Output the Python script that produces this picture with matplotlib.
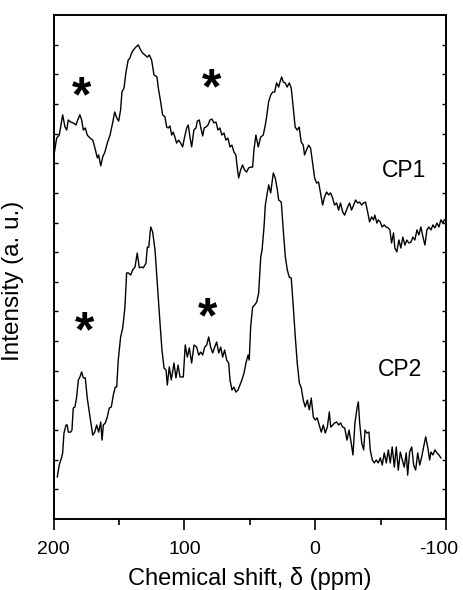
import matplotlib
matplotlib.use("Agg")
import matplotlib.pyplot as plt
from matplotlib.ticker import FixedLocator, NullFormatter
from matplotlib.transforms import ScaledTranslation

plt.rcParams['font.family'] = ['Liberation Sans', 'DejaVu Sans']

# CP1 spectrum: chemical shift (ppm) and offset intensity (a.u.)
cp1_ppm = [199.6, 197.6, 195.6, 193.0, 191.2, 189.9, 188.7, 186.9, 184.9, 182.8,
           181.5, 179.8, 178.5, 177.2, 175.7, 174.2, 172.1, 170.0, 168.3, 166.5,
           165.5, 163.9, 162.4, 160.7, 158.9, 156.8, 154.8, 153.2, 151.7, 150.2,
           148.7, 147.7, 146.1, 144.6, 142.9, 141.6, 140.3, 139.0, 137.0, 135.2,
           133.4, 131.9, 130.1, 128.3, 126.8, 125.0, 123.2, 120.9, 119.9, 118.1,
           116.6, 114.8, 113.5, 112.3, 111.0, 109.7, 108.5, 107.2, 105.9, 104.3,
           102.8, 101.3, 99.8, 98.2, 97.0, 95.7, 94.4, 92.7, 91.1, 90.1,
           88.6, 87.5, 86.0, 84.8, 83.5, 81.9, 80.4, 78.9, 77.4, 75.8,
           74.3, 72.8, 71.3, 69.7, 68.2, 66.7, 65.1, 63.6, 62.1, 60.6,
           59.6, 58.5, 57.0, 55.5, 53.9, 52.4, 50.9, 49.3, 47.8, 46.8,
           45.3, 43.5, 41.7, 39.7, 38.4, 37.1, 35.6, 34.0, 32.5, 31.0,
           29.5, 27.9, 26.9, 25.6, 24.4, 22.9, 21.4, 19.8, 18.3, 16.8,
           15.3, 13.7, 12.2, 10.7, 9.1, 8.1, 6.6, 5.0, 3.5, 2.0,
           0.4, -1.1, -2.6, -4.1, -5.7, -7.2, -8.7, -10.3, -11.8, -13.3,
           -14.8, -16.4, -17.9, -19.4, -21.0, -22.5, -24.8, -26.3, -27.8, -29.4,
           -30.9, -32.4, -33.9, -35.5, -37.0, -38.5, -40.1, -41.6, -43.1, -44.6,
           -45.6, -47.2, -48.2, -49.7, -51.2, -52.7, -54.3, -55.8, -57.1, -58.4,
           -59.9, -60.9, -62.4, -64.0, -65.5, -67.0, -68.6, -70.1, -71.6, -73.2,
           -74.7, -76.2, -77.8, -79.3, -80.8, -82.4, -83.9, -85.4, -86.9, -88.5,
           -90.0, -91.5, -93.1, -94.6, -96.1, -97.7, -98.7]
cp1_int = [12.28, 12.85, 12.95, 13.63, 13.22, 13.12, 13.46, 13.39, 13.36, 13.29,
           13.46, 13.63, 13.46, 13.12, 13.19, 12.95, 12.85, 12.78, 12.51, 12.18,
           12.28, 11.91, 12.21, 12.38, 12.68, 12.95, 13.36, 13.73, 13.53, 13.42,
           13.80, 14.40, 14.54, 15.08, 15.48, 15.55, 15.72, 15.82, 15.92, 15.99,
           15.82, 15.72, 15.65, 15.58, 15.65, 15.48, 14.98, 14.91, 14.54, 14.07,
           13.63, 13.56, 13.22, 13.19, 13.26, 12.95, 13.05, 12.88, 12.68, 12.78,
           12.68, 12.55, 12.88, 13.19, 13.29, 12.88, 12.55, 13.12, 13.19, 13.42,
           13.46, 13.22, 12.92, 13.19, 13.22, 13.29, 13.46, 13.49, 13.36, 13.39,
           13.12, 13.19, 12.95, 13.02, 12.78, 12.85, 12.55, 12.61, 12.38, 12.28,
           11.87, 11.50, 11.77, 11.94, 11.77, 11.70, 11.84, 11.87, 11.87, 12.45,
           12.95, 12.55, 12.88, 12.95, 13.22, 13.56, 14.07, 14.30, 14.40, 14.40,
           14.71, 14.57, 14.74, 14.91, 14.74, 14.71, 14.57, 14.71, 14.54, 13.90,
           13.22, 13.12, 13.22, 12.72, 12.61, 12.28, 12.45, 12.61, 12.51, 12.01,
           11.50, 11.33, 11.37, 11.00, 10.59, 10.86, 11.03, 10.93, 11.00, 10.83,
           10.59, 10.66, 10.42, 10.66, 10.36, 10.25, 10.52, 10.66, 10.42, 10.59,
           10.76, 10.66, 10.69, 10.59, 10.66, 10.69, 10.36, 10.02, 10.19, 10.09,
           10.25, 9.98, 10.09, 10.02, 9.85, 9.92, 9.85, 9.82, 9.75, 9.31,
           9.65, 9.14, 9.01, 9.41, 9.14, 9.51, 9.24, 9.41, 9.31, 9.34,
           9.51, 9.41, 9.75, 9.58, 9.85, 9.51, 9.24, 9.75, 9.85, 9.75,
           9.92, 9.82, 9.98, 9.85, 10.09, 9.98, 10.09]

# CP2 spectrum
cp2_ppm = [197.1, 195.6, 193.7, 193.0, 192.0, 190.4, 189.5, 188.7, 186.9, 185.9,
           184.9, 183.6, 182.3, 181.0, 179.8, 178.5, 177.2, 175.7, 174.2, 172.1,
           170.0, 168.5, 167.0, 165.5, 163.9, 162.9, 161.9, 160.4, 158.9, 157.4,
           155.8, 154.3, 152.8, 151.7, 150.5, 148.7, 147.1, 145.4, 144.1, 142.8,
           141.0, 139.5, 137.7, 136.0, 134.4, 132.6, 131.4, 129.3, 128.3, 127.2,
           125.7, 124.2, 122.4, 120.7, 118.6, 117.1, 115.5, 114.0, 113.0, 111.5,
           110.0, 107.9, 106.4, 104.8, 103.3, 100.8, 99.3, 97.7, 96.2, 94.4,
           92.6, 90.6, 89.0, 87.5, 86.0, 84.4, 82.9, 81.4, 79.9, 78.3,
           76.8, 75.3, 73.7, 72.2, 70.7, 69.2, 67.6, 66.1, 65.1, 63.6,
           62.1, 60.6, 59.0, 57.5, 56.0, 54.4, 52.9, 51.3, 50.4, 49.3,
           47.8, 46.2, 44.7, 43.2, 41.6, 40.6, 39.1, 38.1, 36.6, 35.5,
           34.0, 33.0, 32.0, 30.5, 28.9, 27.9, 25.9, 24.4, 22.8, 21.3,
           19.8, 18.3, 16.7, 15.2, 13.7, 12.1, 10.6, 9.1, 7.6, 6.0,
           4.5, 3.0, 1.4, -0.1, -1.6, -3.1, -4.7, -6.2, -7.7, -9.3,
           -10.8, -11.9, -13.4, -14.9, -16.4, -18.0, -19.5, -21.0, -22.6, -24.3,
           -25.9, -27.4, -28.9, -30.4, -32.0, -33.0, -34.0, -35.6, -37.1, -38.1,
           -39.6, -41.1, -42.1, -43.7, -45.2, -46.7, -48.2, -49.8, -51.3, -52.8,
           -54.4, -55.9, -57.4, -58.9, -60.5, -62.0, -63.5, -65.1, -66.6, -68.1,
           -69.6, -70.7, -72.2, -73.8, -75.3, -76.8, -78.4, -79.9, -81.4, -82.9,
           -84.5, -86.0, -87.5, -88.5, -90.0, -91.5, -93.1, -94.6, -96.1]
cp2_int = [1.42, 1.82, 2.09, 2.23, 2.90, 3.17, 3.17, 2.93, 2.93, 3.00,
           3.74, 3.78, 4.12, 4.69, 4.79, 4.96, 4.76, 4.76, 4.08, 3.44,
           2.83, 2.93, 3.17, 2.93, 3.27, 2.66, 3.17, 3.24, 3.44, 3.74,
           3.78, 4.18, 4.45, 4.45, 5.36, 6.14, 6.44, 7.15, 8.30, 8.30,
           8.23, 8.40, 8.50, 8.97, 8.47, 8.50, 8.47, 8.63, 9.17, 9.17,
           9.85, 9.68, 9.07, 7.96, 6.61, 5.70, 5.09, 5.03, 4.52, 5.13,
           4.69, 5.26, 4.76, 5.19, 4.79, 4.79, 5.87, 5.46, 5.77, 5.26,
           5.87, 5.80, 5.53, 5.63, 5.53, 5.80, 5.87, 6.14, 5.80, 5.60,
           5.80, 5.97, 5.60, 5.80, 5.46, 5.70, 5.36, 5.26, 4.69, 4.35,
           4.45, 4.28, 4.35, 4.52, 4.69, 4.92, 5.26, 5.53, 5.36, 6.48,
           7.15, 7.22, 7.32, 7.62, 8.84, 9.07, 9.85, 10.59, 11.00, 11.27,
           11.00, 11.33, 11.67, 11.50, 11.10, 10.76, 10.69, 9.75, 8.84, 8.40,
           8.16, 8.13, 7.15, 6.14, 5.26, 4.59, 4.42, 4.01, 3.78, 4.01,
           3.68, 4.08, 3.44, 3.34, 3.41, 3.17, 2.93, 3.17, 2.90, 3.10,
           3.61, 3.10, 3.17, 3.24, 3.27, 3.17, 3.24, 3.10, 3.07, 2.66,
           3.00, 2.60, 2.16, 3.24, 3.74, 3.95, 3.24, 2.56, 2.33, 3.00,
           2.90, 2.93, 2.33, 1.99, 1.89, 1.99, 1.89, 2.06, 1.82, 2.23,
           1.89, 2.33, 1.89, 2.43, 1.75, 2.43, 1.65, 2.26, 1.99, 1.75,
           2.23, 1.48, 2.26, 2.43, 1.82, 1.65, 2.23, 1.82, 2.09, 2.43,
           2.77, 2.43, 1.99, 2.26, 2.16, 2.33, 2.23, 2.16, 2.06]

# labels and side-band markers
spectrum_labels = ["CP1", "CP2"]
label_pos = [(-67.9, 11.77), (-64.9, 5.03)]
sideband_pos = [(178.5, 14.54), (79.1, 14.81), (175.9, 6.61), (82.5, 7.08)]

x_major = [200, 100, 0, -100]
x_minor = [150, 50, -50]
y_ticks = list(range(1, 17))

fig = plt.figure(figsize=(4.63, 5.90), dpi=100)
ax = fig.add_axes([53.5 / 463, 71 / 590, 392.5 / 463, 504 / 590])

ax.plot(cp1_ppm, cp1_int, color="black", lw=1.0)
ax.plot(cp2_ppm, cp2_int, color="black", lw=1.0)

for (x, y), name in zip(label_pos, spectrum_labels):
    ax.text(x, y, name, ha="center", va="center", fontsize=16.5)

# asterisk glyph sits above the baseline; shift so its centre lands on the point
star_fs = 36
for x, y in sideband_pos:
    ax.annotate("*", xy=(x, y), xytext=(0, -0.47 * star_fs),
                textcoords="offset points", ha="center", va="baseline",
                fontsize=star_fs, fontweight="bold")

ax.set_xlim(200, -100)
ax.set_ylim(0, 17)

ax.xaxis.set_major_locator(FixedLocator(x_major))
ax.xaxis.set_minor_locator(FixedLocator(x_minor))
ax.set_xticklabels([str(v) for v in x_major])
ax.yaxis.set_major_locator(FixedLocator(y_ticks))
ax.yaxis.set_major_formatter(NullFormatter())

ax.tick_params(axis="x", which="major", direction="out", length=8, width=1.2,
               labelsize=14, pad=8, top=False)
ax.tick_params(axis="x", which="minor", direction="out", length=4.5, width=1.2,
               top=False)
ax.tick_params(axis="y", which="major", direction="in", length=3, width=1.0,
               left=True, right=True)

# keep the right-most tick label inside the figure
last = ax.get_xticklabels()[-1]
last.set_transform(last.get_transform() + ScaledTranslation(-5 / 72, 0, fig.dpi_scale_trans))

for sp in ax.spines.values():
    sp.set_linewidth(1.4)

ax.set_xlabel("Chemical shift, δ (ppm)", fontsize=17, labelpad=6)
ax.set_ylabel("Intensity (a. u.)", fontsize=17.5)
ax.yaxis.set_label_coords(-0.075, 0.472)

fig.savefig("out.png", dpi=100)
